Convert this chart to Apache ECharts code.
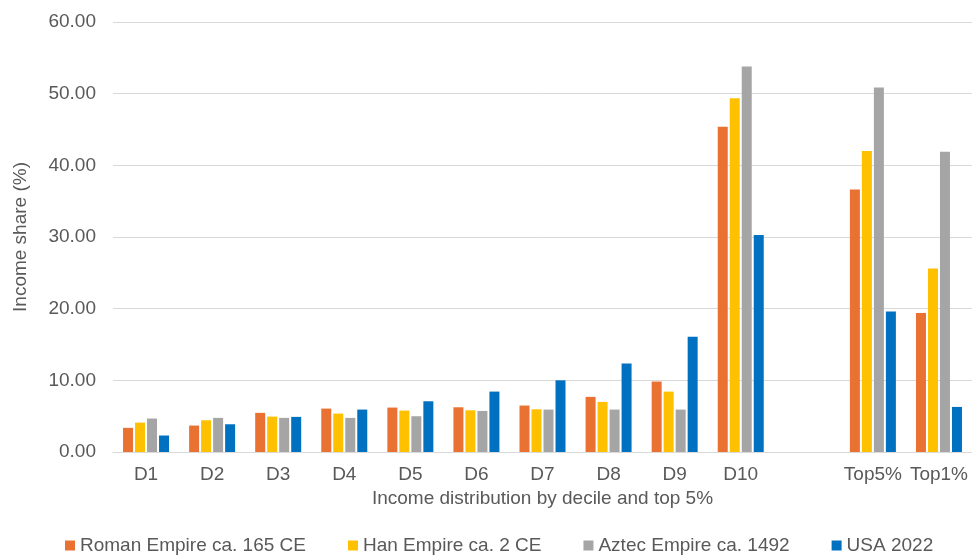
<!DOCTYPE html>
<html><head><meta charset="utf-8">
<script src="https://cdn.jsdelivr.net/npm/echarts@6/dist/echarts.min.js"></script>
<style>html,body{margin:0;padding:0;background:#fff}#c{width:972px;height:555px}</style>
</head><body><div id="c"></div>
<script>
const categories = ['D1','D2','D3','D4','D5','D6','D7','D8','D9','D10','','Top5%','Top1%'];
const roman = [3.37, 3.69, 5.46, 6.06, 6.20, 6.24, 6.48, 7.69, 9.83, 45.40, null, 36.64, 19.40];
const han   = [4.10, 4.43, 4.94, 5.36, 5.78, 5.82, 5.96, 6.99, 8.43, 49.36, null, 42.00, 25.60];
const aztec = [4.67, 4.76, 4.76, 4.76, 4.99, 5.73, 5.92, 5.92, 5.92, 53.80, null, 50.85, 41.88];
const usa   = [2.30, 3.87, 4.90, 5.92, 7.08, 8.43, 10.00, 12.35, 16.08, 30.28, null, 19.62, 6.29];
const seriesNames = ['Roman Empire ca. 165 CE','Han Empire ca. 2 CE','Aztec Empire ca. 1492','USA 2022'];
const colors = ['#E97132','#FFC000','#A5A5A5','#0070C0'];
const yTicks = {min:0, max:60, interval:10};

const font = 'Liberation Sans, Arial, sans-serif';
const txt = '#595959';
const chart = echarts.init(document.getElementById('c'));
const datasets = [roman, han, aztec, usa];
chart.setOption({
  animation:false,
  color: colors,
  grid:{left:113, right:-3, top:22, bottom:103},
  legend:{
    data: seriesNames, left:60, top:531, itemWidth:10, itemHeight:10, itemGap:42,
    icon:'rect', textStyle:{color:txt, fontSize:19, fontFamily:font}
  },
  xAxis:{
    type:'category', data:categories,
    axisLine:{lineStyle:{color:'#D9D9D9', width:1}},
    axisTick:{show:false},
    axisLabel:{color:txt, fontSize:19, fontFamily:font, margin:13, interval:0},
    name:'Income distribution by decile and top 5%', nameLocation:'middle', nameGap:36,
    nameTextStyle:{color:txt, fontSize:19, fontFamily:font}
  },
  yAxis:{
    type:'value', min:yTicks.min, max:yTicks.max, interval:yTicks.interval,
    axisLine:{show:false}, axisTick:{show:false},
    splitLine:{lineStyle:{color:'#D9D9D9', width:1}},
    axisLabel:{color:txt, fontSize:19, fontFamily:font, margin:17, formatter:v=>v.toFixed(2)},
    name:'Income share (%)', nameLocation:'middle', nameGap:83,
    nameTextStyle:{color:txt, fontSize:19, fontFamily:font}
  },
  series: datasets.map((d,i)=>({
    name:seriesNames[i], type:'bar', data:d, barWidth:10, barGap:'20%',
    itemStyle:{color:colors[i]}
  }))
});
</script></body></html>
